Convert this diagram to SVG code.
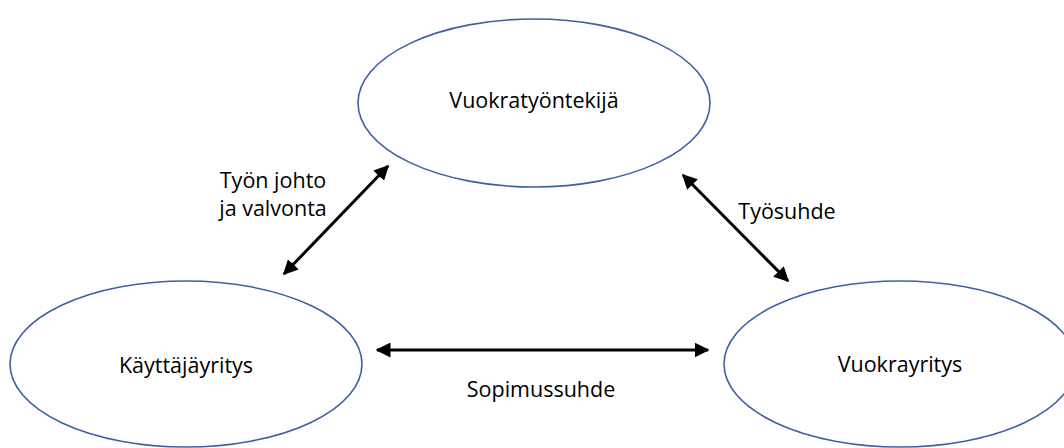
<svg xmlns="http://www.w3.org/2000/svg" width="1064" height="448" viewBox="0 0 1064 448">
<style>
.node{fill:#ffffff;stroke:#3f5fa3;stroke-width:1.6}
.lbl{font-family:"Open Sans","Liberation Sans",sans-serif;font-size:21.5px;fill:#000000;text-anchor:middle}
.conn{stroke:#000000;stroke-width:3;fill:none;marker-start:url(#ah);marker-end:url(#ah)}
</style>
<defs>
<marker id="ah" viewBox="0 0 10 10" refX="9" refY="5" markerWidth="5" markerHeight="5" orient="auto-start-reverse" markerUnits="strokeWidth">
<path d="M0,0 L10,5 L0,10 z" fill="#000000"/>
</marker>
</defs>
<rect width="1064" height="448" fill="#ffffff"/>
<g id="vuokratyontekija">
<ellipse class="node" cx="534" cy="103" rx="176" ry="84"/>
<text class="lbl" x="534" y="108">Vuokratyöntekijä</text>
</g>
<g id="kayttajayritys">
<ellipse class="node" cx="186" cy="364" rx="176" ry="83"/>
<text class="lbl" x="186" y="373">Käyttäjäyritys</text>
</g>
<g id="vuokrayritys">
<ellipse class="node" cx="900" cy="364" rx="176" ry="83"/>
<text class="lbl" x="900" y="372">Vuokrayritys</text>
</g>
<g id="connectors">
<line class="conn" x1="284" y1="274" x2="388" y2="166"/>
<line class="conn" x1="683" y1="175" x2="788" y2="281"/>
<line class="conn" x1="377" y1="350" x2="708" y2="350"/>
</g>
<g id="labels">
<text class="lbl" x="273" y="188">Työn johto</text>
<text class="lbl" x="273" y="216">ja valvonta</text>
<text class="lbl" x="787" y="219">Työsuhde</text>
<text class="lbl" x="541" y="397">Sopimussuhde</text>
</g>
</svg>
